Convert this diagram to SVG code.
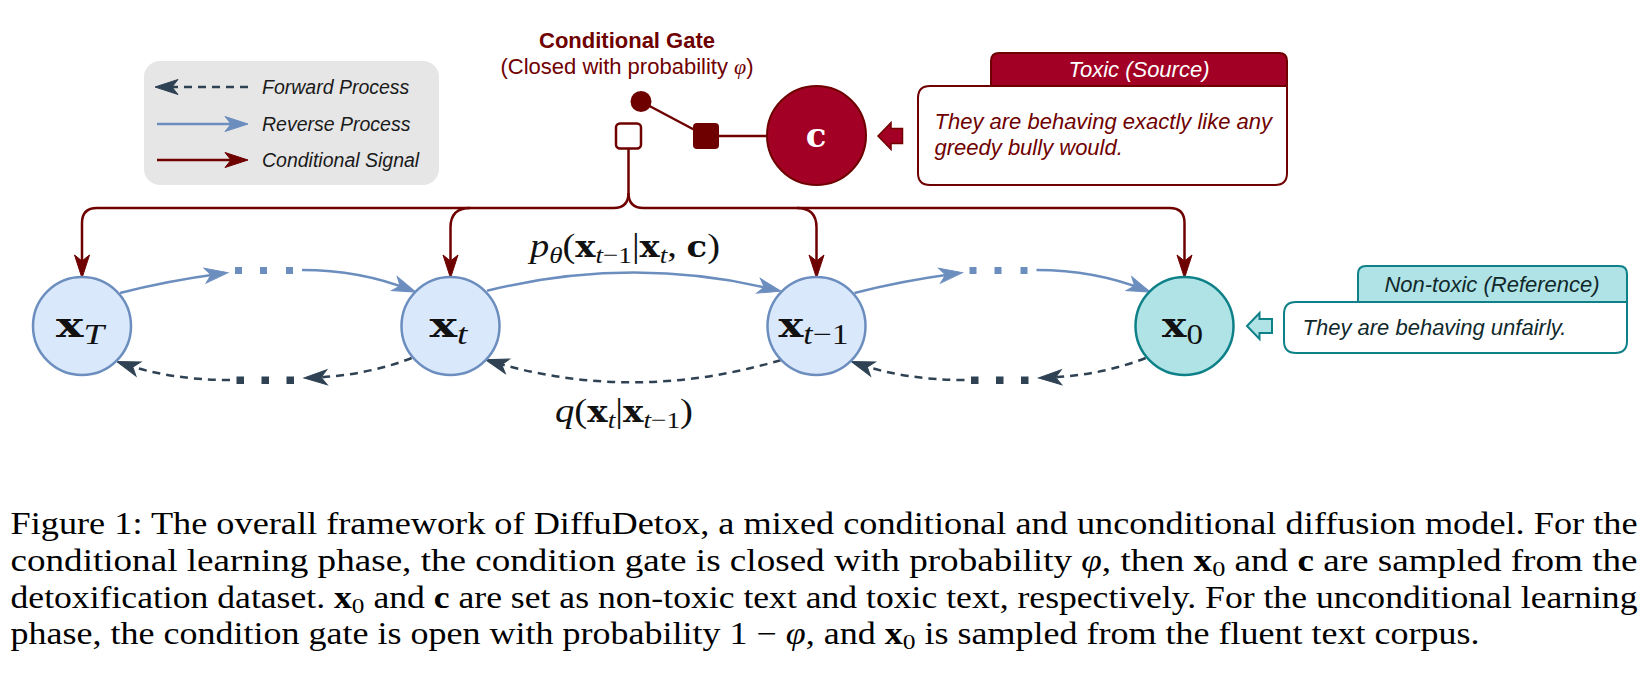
<svg xmlns="http://www.w3.org/2000/svg" width="1650" height="680" viewBox="0 0 1650 680">
<style>
.lg{font-family:"Liberation Sans",Arial,sans-serif;font-style:italic;font-size:19.5px;fill:#1a1a1a}
.gt{font-family:"Liberation Sans",Arial,sans-serif;font-size:22px;fill:#6f0000}
.bt{font-family:"Liberation Sans",Arial,sans-serif;font-style:italic;font-size:22px}
.node{fill:#dae8fc;stroke:#6c8ebf;stroke-width:2.5}
.bx{font-family:"DejaVu Serif",serif;font-weight:bold}
.mi{font-family:"Liberation Serif",serif;font-style:italic}
.mr{font-family:"Liberation Serif",serif;font-style:normal;font-weight:normal}
.nl{font-size:36px;fill:#111}
.ml{font-size:34px;fill:#111;font-family:"Liberation Serif",serif}
.cap{font-family:"Liberation Serif","Times New Roman",serif;font-size:31px;fill:#000}
.red{fill:none;stroke:#6f0000;stroke-width:2.5}
.blue{fill:none;stroke:#6c8ebf;stroke-width:2.5}
.dash{fill:none;stroke:#2f4254;stroke-width:2.5;stroke-dasharray:8 6}
</style>
<defs>
<marker id="aR" markerUnits="userSpaceOnUse" markerWidth="24" markerHeight="16" viewBox="0 0 24 16" refX="17" refY="8" orient="auto" style="overflow:visible">
<path d="M0,0.5 L23,8 L0,15.5 L6,8 Z" fill="#6f0000" stroke="#6f0000" stroke-width="1" stroke-dasharray="none"/>
</marker>
<marker id="aB" markerUnits="userSpaceOnUse" markerWidth="24" markerHeight="16" viewBox="0 0 24 16" refX="17" refY="8" orient="auto" style="overflow:visible">
<path d="M0,0.5 L23,8 L0,15.5 L6,8 Z" fill="#6c8ebf" stroke="#6c8ebf" stroke-width="1" stroke-dasharray="none"/>
</marker>
<marker id="aD" markerUnits="userSpaceOnUse" markerWidth="24" markerHeight="16" viewBox="0 0 24 16" refX="17" refY="8" orient="auto" style="overflow:visible">
<path d="M0,0.5 L23,8 L0,15.5 L6,8 Z" fill="#2f4254" stroke="#2f4254" stroke-width="1" stroke-dasharray="none"/>
</marker>
</defs>
<rect width="1650" height="680" fill="#fff"/>

<g id="legend">
<rect x="144" y="61" width="295" height="124" rx="16" fill="#e6e6e6"/>
<path class="dash" d="M248,87 H161" marker-end="url(#aD)"/>
<path class="blue" d="M157,124 H242" marker-end="url(#aB)"/>
<path class="red" d="M157,160 H242" marker-end="url(#aR)"/>
<text class="lg" x="262" y="93.5">Forward Process</text>
<text class="lg" x="262" y="130.5">Reverse Process</text>
<text class="lg" x="262" y="166.5">Conditional Signal</text>
</g>

<g id="connectors">
<path class="red" d="M628.5,148.5 V193 Q628.5,208 613.5,208 H97 Q82,208 82,223 V272" marker-end="url(#aR)"/>
<path class="red" d="M470,208 Q450.5,208 450.5,227.5 V272" marker-end="url(#aR)"/>
<path class="red" d="M628.5,193 Q628.5,208 643.5,208 H1169.5 Q1184.5,208 1184.5,223 V272" marker-end="url(#aR)"/>
<path class="red" d="M797,208 Q816.5,208 816.5,227.5 V272" marker-end="url(#aR)"/>
<line class="red" x1="641" y1="101.5" x2="706" y2="136"/>
<line class="red" x1="719" y1="136" x2="767" y2="136"/>

<path class="blue" d="M120,293 Q165,281 222,273.4" marker-end="url(#aB)"/>
<path class="blue" d="M302,270 Q360,270 410.3,289.9" marker-end="url(#aB)"/>
<path class="blue" d="M487,290.7 Q633.5,255 775.1,289.8" marker-end="url(#aB)"/>
<path class="blue" d="M854.5,293 Q899.5,281 956.5,273.4" marker-end="url(#aB)"/>
<path class="blue" d="M1036.5,270 Q1094.5,270 1144.8,289.9" marker-end="url(#aB)"/>
<g fill="#6c8ebf">
<rect x="235" y="267" width="7" height="7"/><rect x="260" y="267" width="7" height="7"/><rect x="286" y="267" width="7" height="7"/>
<rect x="969.5" y="267" width="7" height="7"/><rect x="994.5" y="267" width="7" height="7"/><rect x="1020.5" y="267" width="7" height="7"/>
</g>

<path class="dash" d="M411.7,358 Q365,376 310,377.8" marker-end="url(#aD)"/>
<path class="dash" d="M230,380 Q170,380 122.4,363.4" marker-end="url(#aD)"/>
<path class="dash" d="M781,360 Q632.5,404 491.2,361.4" marker-end="url(#aD)"/>
<path class="dash" d="M1145.7,358 Q1099.5,376 1044.5,377.8" marker-end="url(#aD)"/>
<path class="dash" d="M964.5,380 Q904.5,380 856.9,363.4" marker-end="url(#aD)"/>
<g fill="#2f4254">
<rect x="236.5" y="376.5" width="7.5" height="7.5"/><rect x="261.5" y="376.5" width="7.5" height="7.5"/><rect x="286.5" y="376.5" width="7.5" height="7.5"/>
<rect x="971" y="376.5" width="7.5" height="7.5"/><rect x="996" y="376.5" width="7.5" height="7.5"/><rect x="1021" y="376.5" width="7.5" height="7.5"/>
</g>

<text class="ml" x="530" y="257" textLength="190" lengthAdjust="spacingAndGlyphs"><tspan class="mi">p</tspan><tspan class="mi" font-size="24" dy="6">θ</tspan><tspan class="mr" dy="-6">(</tspan><tspan class="bx" font-size="30">x</tspan><tspan class="mi" font-size="24" dy="6">t</tspan><tspan class="mr" font-size="24">−1</tspan><tspan class="mr" dy="-6">|</tspan><tspan class="bx" font-size="30">x</tspan><tspan class="mi" font-size="24" dy="6">t</tspan><tspan class="mr" dy="-6">, </tspan><tspan class="bx" font-size="30">c</tspan><tspan class="mr">)</tspan></text>
<text class="ml" x="555" y="422" textLength="138" lengthAdjust="spacingAndGlyphs"><tspan class="mi">q</tspan><tspan class="mr">(</tspan><tspan class="bx" font-size="30">x</tspan><tspan class="mi" font-size="24" dy="6">t</tspan><tspan class="mr" dy="-6">|</tspan><tspan class="bx" font-size="30">x</tspan><tspan class="mi" font-size="24" dy="6">t</tspan><tspan class="mr" font-size="24">−1</tspan><tspan class="mr" dy="-6">)</tspan></text>
</g>

<g id="gate">
<text class="gt" x="627" y="47.5" text-anchor="middle" font-weight="bold">Conditional Gate</text>
<text class="gt" x="627" y="74" text-anchor="middle">(Closed with probability <tspan class="mi">φ</tspan>)</text>
<circle cx="641" cy="101.5" r="10.5" fill="#6f0000"/>
<rect x="616" y="123.5" width="25" height="25" rx="4" fill="#fff" stroke="#6f0000" stroke-width="2.5"/>
<rect x="693" y="123" width="26" height="26" rx="4" fill="#6f0000"/>
</g>

<g id="node-c">
<circle cx="816.5" cy="135.5" r="49.5" fill="#a20025" stroke="#6f0000" stroke-width="2"/>
<text class="bx" x="816" y="147" font-size="34" text-anchor="middle" fill="#fff">c</text>
</g>

<g id="toxic-box">
<path d="M878,136 L891,122.5 V128.5 H902.5 V143.5 H891 V149.5 Z" fill="#a20025" stroke="#6f0000" stroke-width="1.5" stroke-linejoin="miter"/>
<path d="M930,86 H1287 V173 Q1287,185 1275,185 H930 Q918,185 918,173 V98 Q918,86 930,86 Z" fill="#fff" stroke="#6f0000" stroke-width="2"/>
<path d="M991,86 V61 Q991,53 999,53 H1279 Q1287,53 1287,61 V86 Z" fill="#a20025" stroke="#6f0000" stroke-width="2"/>
<text class="bt" x="1139" y="77" text-anchor="middle" fill="#fff">Toxic (Source)</text>
<text class="bt" x="934.5" y="129" fill="#6f0000">They are behaving exactly like any</text>
<text class="bt" x="934.5" y="155" fill="#6f0000">greedy bully would.</text>
</g>

<g id="node-xT">
<circle class="node" cx="82" cy="326" r="49"/>
<text class="nl" x="56" y="337" textLength="48" lengthAdjust="spacingAndGlyphs"><tspan class="bx">x</tspan><tspan class="mi" font-size="29" dy="7">T</tspan></text>
</g>
<g id="node-xt">
<circle class="node" cx="450.5" cy="326" r="49"/>
<text class="nl" x="429.5" y="337" textLength="38" lengthAdjust="spacingAndGlyphs"><tspan class="bx">x</tspan><tspan class="mi" font-size="29" dy="7">t</tspan></text>
</g>
<g id="node-xt1">
<circle class="node" cx="816.5" cy="326" r="49"/>
<text class="nl" x="778.5" y="337" textLength="70" lengthAdjust="spacingAndGlyphs"><tspan class="bx">x</tspan><tspan class="mi" font-size="29" dy="7">t</tspan><tspan class="mr" font-size="29">−1</tspan></text>
</g>
<g id="node-x0">
<circle cx="1184.5" cy="326" r="49" fill="#b0e3e6" stroke="#0e8088" stroke-width="2.5"/>
<text class="nl" x="1162" y="337" textLength="41" lengthAdjust="spacingAndGlyphs"><tspan class="bx">x</tspan><tspan class="mr" font-size="29" dy="7">0</tspan></text>
</g>

<g id="nontoxic-box">
<path d="M1247,326 L1259.5,313 V319 H1272 V333 H1259.5 V339 Z" fill="#b0e3e6" stroke="#0e8088" stroke-width="2" stroke-linejoin="miter"/>
<path d="M1296,302 H1627 V341 Q1627,353 1615,353 H1296 Q1284,353 1284,341 V314 Q1284,302 1296,302 Z" fill="#fff" stroke="#0e8088" stroke-width="2"/>
<path d="M1358,302 V274 Q1358,266 1366,266 H1619 Q1627,266 1627,274 V302 Z" fill="#b0e3e6" stroke="#0e8088" stroke-width="2"/>
<text class="bt" x="1492" y="291.5" text-anchor="middle" fill="#10292b">Non-toxic (Reference)</text>
<text class="bt" x="1302.5" y="335" fill="#10292b">They are behaving unfairly.</text>
</g>

<g id="caption">
<text class="cap" x="10.5" y="533.5" textLength="1627" lengthAdjust="spacingAndGlyphs">Figure 1: The overall framework of DiffuDetox, a mixed conditional and unconditional diffusion model. For the</text>
<text class="cap" x="10.5" y="571" textLength="1627" lengthAdjust="spacingAndGlyphs">conditional learning phase, the condition gate is closed with probability <tspan font-style="italic">φ</tspan>, then <tspan font-weight="bold">x</tspan><tspan font-size="22" dy="5">0</tspan><tspan dy="-5"> and </tspan><tspan font-weight="bold">c</tspan> are sampled from the</text>
<text class="cap" x="10.5" y="607.5" textLength="1627" lengthAdjust="spacingAndGlyphs">detoxification dataset. <tspan font-weight="bold">x</tspan><tspan font-size="22" dy="5">0</tspan><tspan dy="-5"> and </tspan><tspan font-weight="bold">c</tspan> are set as non-toxic text and toxic text, respectively. For the unconditional learning</text>
<text class="cap" x="10.5" y="644" textLength="1469" lengthAdjust="spacingAndGlyphs">phase, the condition gate is open with probability 1 − <tspan font-style="italic">φ</tspan>, and <tspan font-weight="bold">x</tspan><tspan font-size="22" dy="5">0</tspan><tspan dy="-5"> is sampled from the fluent text corpus.</tspan></text>
</g>
</svg>
